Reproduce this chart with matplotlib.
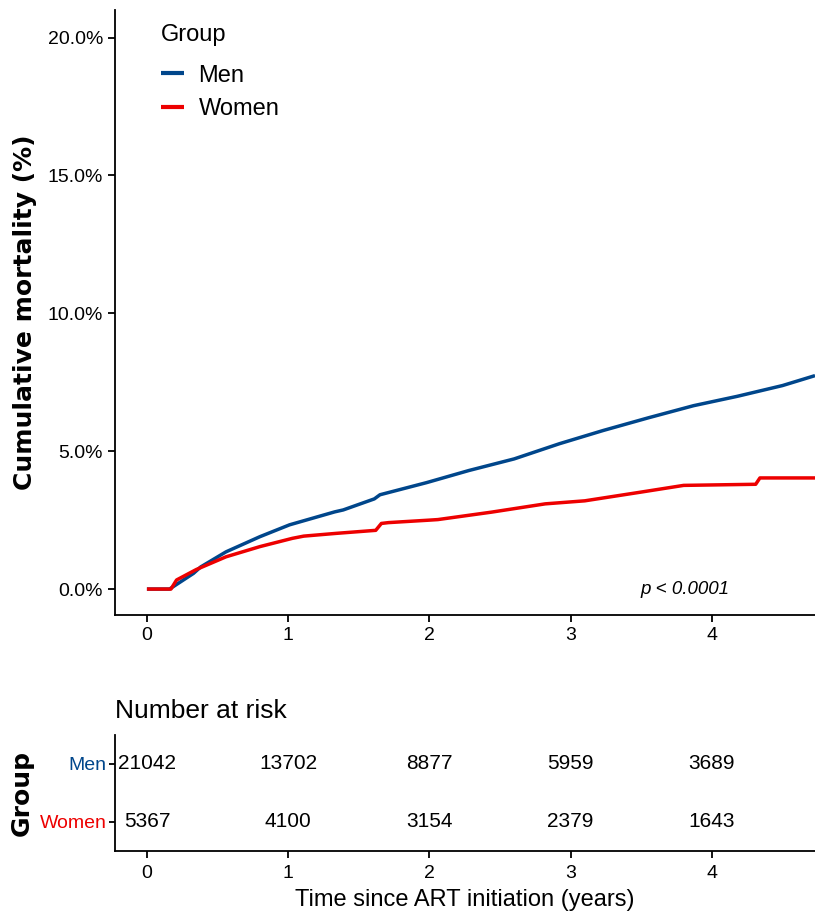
import matplotlib
matplotlib.use("Agg")
import matplotlib.pyplot as plt
import numpy as np

plt.rcParams['font.family'] = ['Liberation Sans Narrow', 'Liberation Sans', 'DejaVu Sans']

groups = ["Men", "Women"]
colors = ["#00468B", "#ED0000"]

men_t = [0.0, 0.16, 0.33, 0.38, 0.56, 0.80, 1.01, 1.33, 1.39, 1.61, 1.65, 1.98, 2.28, 2.60, 2.92, 3.23, 3.55, 3.87, 4.18, 4.50, 4.73]
men_v = [0.0, 0.0, 0.57, 0.80, 1.35, 1.90, 2.33, 2.80, 2.87, 3.27, 3.42, 3.86, 4.30, 4.72, 5.27, 5.75, 6.21, 6.65, 6.99, 7.38, 7.74]

women_t = [0.0, 0.17, 0.21, 0.35, 0.56, 0.80, 1.03, 1.11, 1.34, 1.62, 1.66, 1.71, 2.0, 2.06, 2.44, 2.82, 3.10, 3.49, 3.80, 4.31, 4.34, 4.73]
women_v = [0.0, 0.0, 0.33, 0.71, 1.17, 1.54, 1.84, 1.92, 2.02, 2.13, 2.38, 2.41, 2.50, 2.52, 2.79, 3.09, 3.20, 3.51, 3.76, 3.80, 4.03, 4.03]

yticks = [0, 5, 10, 15, 20]
ytick_labels = ["0.0%", "5.0%", "10.0%", "15.0%", "20.0%"]
xticks = [0, 1, 2, 3, 4]

risk_men = [21042, 13702, 8877, 5959, 3689]
risk_women = [5367, 4100, 3154, 2379, 1643]

fig = plt.figure(figsize=(8.15, 9.13), dpi=100)

ax = fig.add_axes([0.1411, 0.3264, 0.8589, 0.6627])
ax.plot(men_t, men_v, color=colors[0], lw=2.5, label=groups[0], solid_capstyle='butt')
ax.plot(women_t, women_v, color=colors[1], lw=2.5, label=groups[1], solid_capstyle='butt')
ax.set_xlim(-0.226, 4.73)
ax.set_ylim(-0.94, 21.0)
ax.set_yticks(yticks)
ax.set_yticklabels(ytick_labels)
ax.set_xticks(xticks)
for s in ['top', 'right']:
    ax.spines[s].set_visible(False)
for s in ['left', 'bottom']:
    ax.spines[s].set_linewidth(1.3)
ax.tick_params(labelsize=14, width=1.3, length=5, colors='black')
ax.set_ylabel("Cumulative mortality (%)", fontsize=18, fontweight='bold',
              family='DejaVu Sans', labelpad=8)
ax.text(3.81, 0.0, "p < 0.0001", fontsize=13.5, style='italic', ha='center', va='center')
leg = ax.legend(title="Group", loc='upper left', bbox_to_anchor=(0.035, 1.012), frameon=False,
                fontsize=17, title_fontsize=17, handlelength=1.0, handletextpad=0.6,
                labelspacing=0.5)
leg._legend_box.align = "left"
leg._legend_box.sep = 13.5
for h in leg.get_lines():
    h.set_linewidth(3)

rax = fig.add_axes([0.1411, 0.0679, 0.8589, 0.1271])
rax.set_xlim(-0.226, 4.73)
rax.set_ylim(0.5, 2.5)
for i, t in enumerate(xticks):
    rax.text(t, 2, str(risk_men[i]), ha='center', va='center', fontsize=15)
    rax.text(t, 1, str(risk_women[i]), ha='center', va='center', fontsize=15)
rax.set_yticks([2, 1])
rax.set_yticklabels(groups)
for lbl, c in zip(rax.get_yticklabels(), colors):
    lbl.set_color(c)
rax.set_xticks(xticks)
for s in ['top', 'right']:
    rax.spines[s].set_visible(False)
for s in ['left', 'bottom']:
    rax.spines[s].set_linewidth(1.3)
rax.tick_params(labelsize=14, width=1.3, length=4, pad=2)
rax.tick_params(axis='x', length=5, pad=5)
rax.set_ylabel("Group", fontsize=18, fontweight='bold', family='DejaVu Sans', labelpad=4)
rax.set_xlabel("Time since ART initiation (years)", fontsize=17, labelpad=5)
rax.set_title("Number at risk", fontsize=19, loc='left', pad=12)

fig.savefig("out.png", dpi=100)
